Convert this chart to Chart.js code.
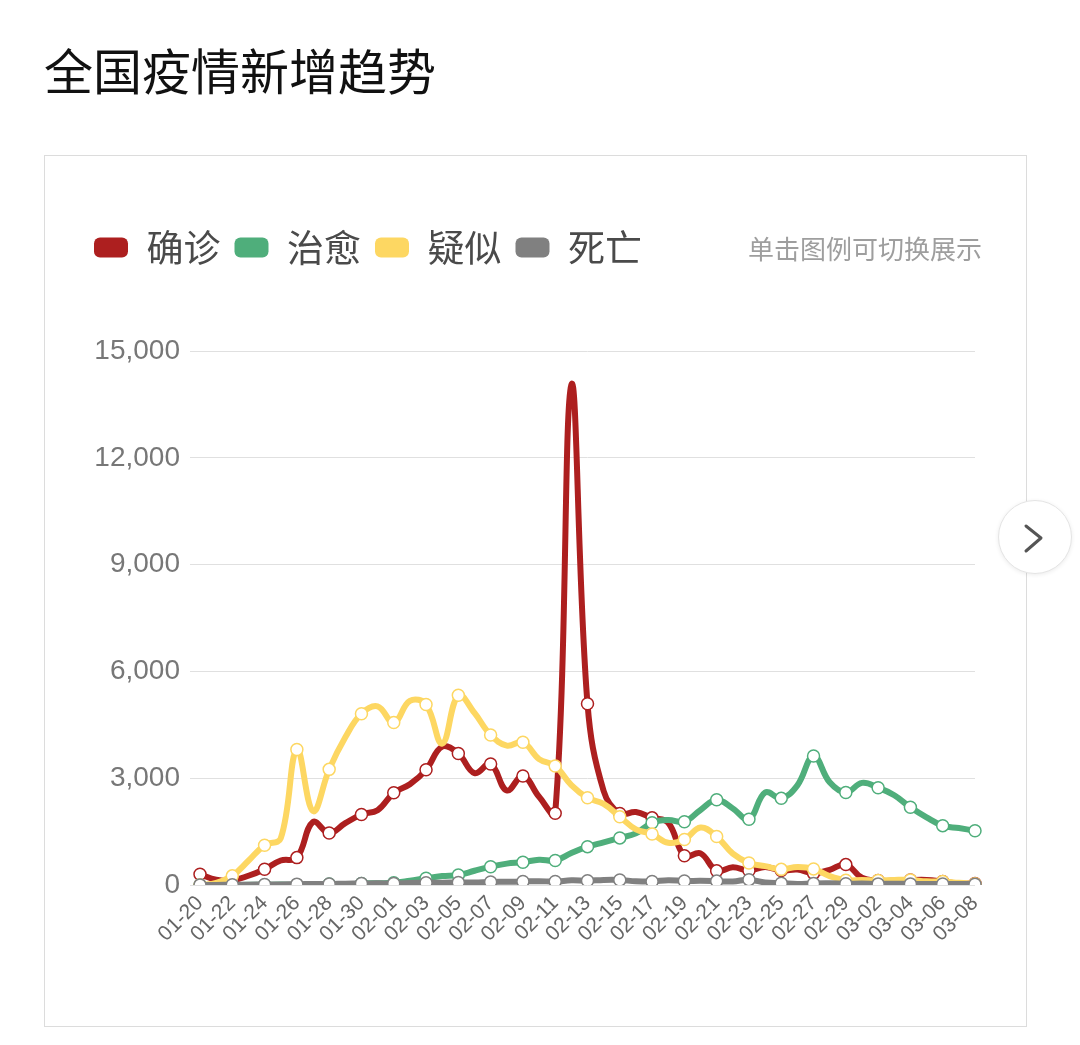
<!DOCTYPE html>
<html>
<head>
<meta charset="utf-8">
<script src="https://cdn.jsdelivr.net/npm/chart.js@4.4.0/dist/chart.umd.min.js"></script>
<style>
  body { margin: 0; background: #fff; width: 1080px; height: 1045px; position: relative; overflow: hidden;
         font-family: "Noto Sans CJK SC", sans-serif; }
  h1 { position: absolute; left: 44px; top: 40px; margin: 0; font-size: 49px; font-weight: 400;
       color: #111; line-height: 58px; letter-spacing: 0; }
  .card { position: absolute; left: 44px; top: 155px; width: 983px; height: 872px; box-sizing: border-box;
          border: 1px solid #dcdcdc; }
  #trend { position: absolute; left: 44px; top: 155px; }
  .hint { position: absolute; right: 98px; top: 232px; font-size: 26px; line-height: 32px; color: #9e9e9e; }
  .next { position: absolute; left: 998px; top: 500px; width: 74px; height: 74px; box-sizing: border-box;
          border-radius: 50%; background: #fff; border: 1px solid #e4e4e4;
          box-shadow: 0 1px 4px rgba(0,0,0,0.08); }
  .next svg { position: absolute; left: 0; top: 0; }
</style>
</head>
<body>
<h1>全国疫情新增趋势</h1>
<div class="card"></div>
<canvas id="trend" width="983" height="872"></canvas>
<div class="hint">单击图例可切换展示</div>
<div class="next">
  <svg width="72" height="72" viewBox="0 0 72 72"><polyline points="27,25 42,37 27,50" fill="none" stroke="#555" stroke-width="3" stroke-linecap="round" stroke-linejoin="round"/></svg>
</div>
<script>
// 横轴日期
var dates = ["01-20", "01-21", "01-22", "01-23", "01-24", "01-25", "01-26", "01-27", "01-28", "01-29",
  "01-30", "01-31", "02-01", "02-02", "02-03", "02-04", "02-05", "02-06", "02-07", "02-08",
  "02-09", "02-10", "02-11", "02-12", "02-13", "02-14", "02-15", "02-16", "02-17", "02-18",
  "02-19", "02-20", "02-21", "02-22", "02-23", "02-24", "02-25", "02-26", "02-27", "02-28",
  "02-29", "03-01", "03-02", "03-03", "03-04", "03-05", "03-06", "03-07", "03-08"];

// 每日新增
var confirmed = [300, 149, 131, 259, 444, 688, 769, 1771, 1459, 1737,
  1982, 2102, 2590, 2829, 3235, 3887, 3694, 3143, 3399, 2656,
  3062, 2478, 2015, 14050, 5090, 2641, 2009, 2048, 1886, 1749,
  820, 889, 397, 500, 409, 508, 406, 433, 327, 427,
  573, 202, 125, 119, 139, 143, 99, 44, 40];
var recovered = [0, 0, 0, 6, 3, 11, 2, 9, 30, 20,
  40, 50, 60, 120, 190, 250, 280, 400, 515, 600,
  640, 710, 690, 900, 1077, 1200, 1323, 1450, 1750, 1824,
  1779, 2109, 2393, 2150, 1845, 2600, 2434, 2800, 3622, 2885,
  2600, 2868, 2734, 2520, 2182, 1900, 1667, 1600, 1526];
var suspected = [0, 60, 257, 680, 1118, 1309, 3806, 2077, 3248, 4148,
  4812, 5019, 4562, 5173, 5072, 3971, 5328, 4833, 4214, 3916,
  4008, 3536, 3342, 2807, 2450, 2277, 1918, 1563, 1432, 1185,
  1277, 1614, 1361, 882, 620, 530, 439, 508, 452, 248,
  132, 141, 129, 143, 143, 102, 99, 60, 36];
var deaths = [3, 3, 8, 8, 16, 15, 24, 26, 26, 38,
  43, 46, 45, 57, 64, 65, 73, 73, 86, 89,
  97, 108, 97, 130, 121, 143, 142, 105, 98, 136,
  114, 118, 109, 97, 150, 71, 52, 29, 44, 47,
  35, 42, 31, 38, 31, 30, 28, 27, 22];

var yTicks = [0, 3000, 6000, 9000, 12000, 15000];

var names = ["确诊", "治愈", "疑似", "死亡"];
var colors = ["#ad1f1f", "#4fae7b", "#fdd762", "#808080"];

// 点只画在隔天的位置上
function everyOther(c) {
  return c.dataIndex % 2 === 0 ? 6 : 0;
}

function makeSet(i, values) {
  return {
    label: names[i],
    data: values,
    borderColor: colors[i],
    backgroundColor: colors[i],
    borderWidth: 6,
    tension: 0.4,
    pointRadius: everyOther,
    pointHoverRadius: everyOther,
    pointBackgroundColor: "#fff",
    pointBorderColor: colors[i],
    pointBorderWidth: 1.5,
    order: 3 - i // 后面的序列画在上面
  };
}

var ctx = document.getElementById("trend").getContext("2d");

var chart = new Chart(ctx, {
  type: "line",
  data: {
    labels: dates,
    datasets: [
      makeSet(0, confirmed),
      makeSet(1, recovered),
      makeSet(2, suspected),
      makeSet(3, deaths)
    ]
  },
  options: {
    responsive: false,
    animation: false,
    layout: { padding: { top: 60, left: 36, right: 52, bottom: 82 } },
    plugins: {
      legend: {
        position: "top",
        align: "start",
        labels: {
          boxWidth: 34,
          boxHeight: 20,
          padding: 14,
          useBorderRadius: true,
          borderRadius: 6,
          color: "#4a4a4a",
          font: { size: 37, family: "'Noto Sans CJK SC', sans-serif" },
          sort: function (a, b) { return a.datasetIndex - b.datasetIndex; },
          generateLabels: function (c) {
            return Chart.defaults.plugins.legend.labels.generateLabels(c).map(function (l) {
              l.lineWidth = 0;
              return l;
            });
          }
        }
      },
      // 空标题只用来留出图例和绘图区之间的距离
      title: {
        display: true,
        text: "",
        weight: 500,
        font: { size: 10, lineHeight: 1 },
        padding: { top: 0, bottom: 65 }
      },
      tooltip: { enabled: false }
    },
    scales: {
      x: {
        grid: { display: false, drawTicks: false },
        border: { display: false },
        ticks: {
          autoSkip: false,
          maxRotation: 45,
          minRotation: 45,
          padding: 6,
          color: "#666",
          font: { size: 21, family: "'Liberation Sans', sans-serif" },
          callback: function (value, index) {
            return index % 2 === 0 ? dates[index] : "";
          }
        },
        afterFit: function (scale) { scale.height = 60; }
      },
      y: {
        min: 0,
        max: 15000,
        grid: { color: "#e0e0e0", lineWidth: 1, drawTicks: true, tickLength: 10 },
        border: { display: false },
        ticks: {
          padding: 10,
          color: "#777",
          font: { size: 28, family: "'Liberation Sans', sans-serif" }
        },
        afterBuildTicks: function (scale) {
          scale.ticks = yTicks.map(function (v) { return { value: v }; });
        },
        afterFit: function (scale) { scale.width = 120; }
      }
    }
  }
});
</script>
</body>
</html>
